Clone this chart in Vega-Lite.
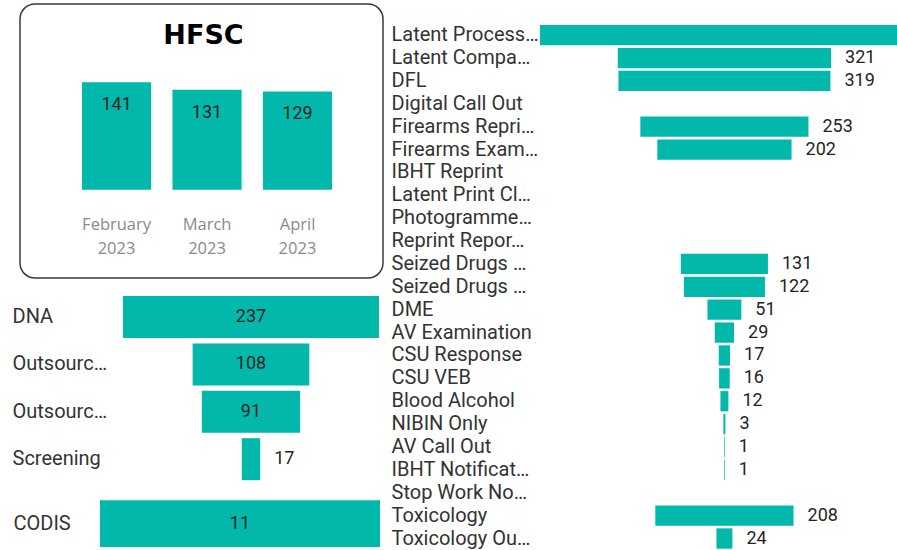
{
  "$schema": "https://vega.github.io/schema/vega-lite/v6.json",
  "padding": {"left": 12, "top": 3, "right": 0, "bottom": 0},
  "bounds": "flush",
  "spacing": 371,
  "config": {
    "view": {"stroke": null},
    "font": "Roboto",
    "axis": {"domain": false, "ticks": false, "tickSize": 0, "grid": false, "title": null}
  },
  "hconcat": [
    {
      "bounds": "flush",
      "spacing": 0,
      "vconcat": [
        {
          "width": 363,
          "height": 274,
          "view": {"stroke": "#3a3a3a", "strokeWidth": 1.5, "cornerRadius": 15},
          "title": {"text": "HFSC", "offset": -67.4, "baseline": "alphabetic", "fontSize": 27, "font": "DejaVu Sans", "fontWeight": "bold", "color": "#000000", "anchor": "middle", "dx": 2},
          "data": {"values": [
            {"month": "February 2023", "count": 141},
            {"month": "March 2023", "count": 131},
            {"month": "April 2023", "count": 129}
          ]},
          "encoding": {
            "x": {"field": "month", "type": "nominal", "sort": null,
              "scale": {"paddingInner": 0.2355, "paddingOuter": 0.624, "align": 0.549},
              "axis": {"labelExpr": "split(datum.label, ' ')", "labelAngle": 0, "labelFont": "Open Sans", "labelFontSize": 16.5, "labelColor": "#8a8a8a", "labelLineHeight": 24, "labelBaseline": "middle", "offset": -54, "labelPadding": 0}},
            "y": {"field": "count", "type": "quantitative", "scale": {"domain": [-115.9, 243.7], "nice": false, "zero": false}, "axis": null}
          },
          "layer": [
            {"mark": {"type": "bar", "color": "#01B8AA"}, "encoding": {"y2": {"datum": 0}}},
            {"mark": {"type": "text", "baseline": "middle", "dy": 23, "fontSize": 18, "color": "#252423"}, "encoding": {"text": {"field": "count", "type": "quantitative"}}}
          ]
        },
        {
          "width": 359,
          "height": 212,
          "data": {"values": [
            {"section": "DNA", "count": 237},
            {"section": "Outsourc…", "count": 108},
            {"section": "Outsourc… ", "count": 91},
            {"section": "Screening", "count": 17}
          ]},
          "encoding": {
            "y": {"field": "section", "type": "nominal", "sort": null,
              "scale": {"paddingInner": 0.114, "paddingOuter": 0.293, "align": 0.647},
              "axis": {"labelAlign": "left", "labelPadding": 8, "labelFontSize": 20, "labelColor": "#333333", "labelLimit": 0, "labelFont": "Roboto"}}
          },
          "layer": [
            {"mark": {"type": "bar", "color": "#01B8AA"},
             "encoding": {"x": {"field": "count", "type": "quantitative", "stack": "center", "scale": {"domain": [-95.3, 237], "nice": false, "zero": false}, "axis": null}}},
            {"mark": {"type": "text", "align": "center", "baseline": "middle", "fontSize": 18, "color": "#252423"},
             "encoding": {"x": {"datum": 118.5, "type": "quantitative", "scale": {"domain": [-95.3, 237], "nice": false, "zero": false}, "axis": null},
               "text": {"condition": {"test": "datum.count > 20", "field": "count", "type": "quantitative"}, "value": ""}}},
            {"mark": {"type": "text", "align": "left", "baseline": "middle", "dx": 14, "fontSize": 18, "color": "#252423"},
             "encoding": {"x": {"field": "count", "type": "quantitative", "stack": "center", "scale": {"domain": [-95.3, 237], "nice": false, "zero": false}, "axis": null},
               "text": {"condition": {"test": "datum.count <= 20", "field": "count", "type": "quantitative"}, "value": ""}}}
          ]
        },
        {
          "width": 360,
          "height": 61,
          "data": {"values": [
            {"section": "CODIS", "count": 11}
          ]},
          "encoding": {
            "y": {"field": "section", "type": "nominal", "sort": null,
              "scale": {"paddingInner": 0, "paddingOuter": 0.153, "align": 0.72},
              "axis": {"labelAlign": "left", "labelPadding": 7, "labelFontSize": 20, "labelColor": "#333333", "labelLimit": 0, "labelFont": "Roboto"}}
          },
          "layer": [
            {"mark": {"type": "bar", "color": "#01B8AA"},
             "encoding": {"x": {"field": "count", "type": "quantitative", "stack": "center", "scale": {"domain": [-3.14, 11], "nice": false, "zero": false}, "axis": null}}},
            {"mark": {"type": "text", "align": "center", "baseline": "middle", "fontSize": 18, "color": "#252423"},
             "encoding": {"x": {"datum": 5.5, "type": "quantitative", "scale": {"domain": [-3.14, 11], "nice": false, "zero": false}, "axis": null},
               "text": {"field": "count", "type": "quantitative"}}}
          ]
        }
      ]
    },
    {
      "width": 506,
      "height": 547,
      "data": {"values": [
        {"task": "Latent Process…", "count": 555},
        {"task": "Latent Compa…", "count": 321},
        {"task": "DFL", "count": 319},
        {"task": "Digital Call Out", "count": null},
        {"task": "Firearms Repri…", "count": 253},
        {"task": "Firearms Exam…", "count": 202},
        {"task": "IBHT Reprint", "count": null},
        {"task": "Latent Print Cl…", "count": null},
        {"task": "Photogramme…", "count": null},
        {"task": "Reprint Repor…", "count": null},
        {"task": "Seized Drugs …", "count": 131},
        {"task": "Seized Drugs … ", "count": 122},
        {"task": "DME", "count": 51},
        {"task": "AV Examination", "count": 29},
        {"task": "CSU Response", "count": 17},
        {"task": "CSU VEB", "count": 16},
        {"task": "Blood Alcohol", "count": 12},
        {"task": "NIBIN Only", "count": 3},
        {"task": "AV Call Out", "count": 1},
        {"task": "IBHT Notificat…", "count": 1},
        {"task": "Stop Work No…", "count": null},
        {"task": "Toxicology", "count": 208},
        {"task": "Toxicology Ou…", "count": 24}
      ]},
      "encoding": {
        "y": {"field": "task", "type": "nominal", "sort": null,
          "scale": {"domain": ["Latent Process…", "Latent Compa…", "DFL", "Digital Call Out", "Firearms Repri…", "Firearms Exam…", "IBHT Reprint", "Latent Print Cl…", "Photogramme…", "Reprint Repor…", "Seized Drugs …", "Seized Drugs … ", "DME", "AV Examination", "CSU Response", "CSU VEB", "Blood Alcohol", "NIBIN Only", "AV Call Out", "IBHT Notificat…", "Stop Work No…", "Toxicology", "Toxicology Ou…"],
            "paddingInner": 0.113, "paddingOuter": 0.51, "align": 0.9},
          "axis": {"labelAlign": "left", "labelPadding": 0, "labelFontSize": 20, "labelColor": "#333333", "labelLimit": 0, "labelFont": "Roboto"}}
      },
      "layer": [
        {"mark": {"type": "bar", "color": "#01B8AA", "clip": true},
         "encoding": {"x": {"field": "count", "type": "quantitative", "stack": "center", "scale": {"domain": [-224.2, 537.2], "nice": false, "zero": false}, "axis": null}}},
        {"mark": {"type": "text", "align": "left", "baseline": "middle", "dx": 14, "fontSize": 18, "color": "#252423", "clip": true},
         "encoding": {"x": {"field": "count", "type": "quantitative", "stack": "center", "scale": {"domain": [-224.2, 537.2], "nice": false, "zero": false}, "axis": null},
           "text": {"field": "count", "type": "quantitative"}}}
      ]
    }
  ]
}
